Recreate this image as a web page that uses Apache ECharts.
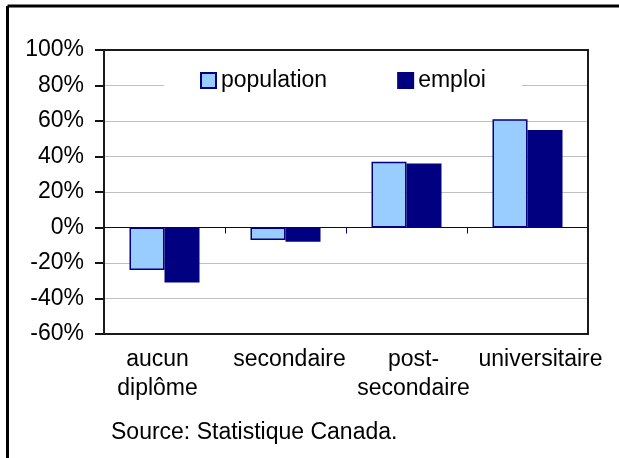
<!DOCTYPE html>
<html>
<head>
<meta charset="utf-8">
<script src="https://cdn.jsdelivr.net/npm/echarts@6/dist/echarts.min.js"></script>
<style>
html,body{margin:0;padding:0;background:#fff;}
#c{width:619px;height:458px;}
</style>
</head>
<body>
<div id="c"></div>
<script>
var categories = ['aucun\ndiplôme', 'secondaire', 'post-\nsecondaire', 'universitaire'];
var populationValues = [-24, -7, 37, 61];
var emploiValues = [-31, -8, 36, 55];
var seriesNames = ['population', 'emploi'];
var sourceText = 'Source: Statistique Canada.';

var FONT = 'Arial, "Liberation Sans", sans-serif';
var labelPads = [[0, 14, 0, 0], [0, 0, 0, 8], [0, 0, 0, 14], [0, 0, 0, 26]];
var rich = {};
labelPads.forEach(function(p, i){
  rich['c' + i] = {fontFamily: FONT, fontSize: 23, color: '#000', lineHeight: 29, padding: p};
});

var chart = echarts.init(document.getElementById('c'), null, {renderer: 'canvas'});
var borderLine = {show: true, onZero: false, lineStyle: {color: '#111111', width: 2}};
chart.setOption({
  backgroundColor: '#ffffff',
  animation: false,
  grid: {left: 104, right: 31, top: 50, bottom: 124, containLabel: false},
  legend: {
    data: seriesNames,
    left: 164, top: 61,
    padding: [8, 36, 8, 36],
    backgroundColor: '#ffffff',
    itemWidth: 15, itemHeight: 15, itemGap: 70,
    icon: 'rect',
    itemStyle: {borderColor: '#000080', borderWidth: 2},
    textStyle: {fontFamily: FONT, fontSize: 23, color: '#000'}
  },
  xAxis: [{
    type: 'category', data: categories, position: 'bottom',
    axisLine: borderLine,
    axisTick: {show: false},
    splitLine: {show: false},
    axisLabel: {
      margin: 11, interval: 0,
      formatter: function(v, i){
        return v.split('\n').map(function(s){return '{c' + i + '|' + s + '}';}).join('\n');
      },
      rich: rich
    }
  }, {
    type: 'category', data: categories, position: 'bottom',
    axisLine: {show: true, onZero: true, lineStyle: {color: '#000080', width: 1}},
    axisTick: {show: true, length: 6, lineStyle: {color: '#000080', width: 1}},
    axisLabel: {show: false},
    splitLine: {show: false}
  }, {
    type: 'category', data: categories, position: 'top',
    axisLine: borderLine,
    axisTick: {show: false}, axisLabel: {show: false}, splitLine: {show: false}
  }],
  yAxis: [{
    type: 'value', min: -60, max: 100, interval: 20, position: 'left',
    axisLine: borderLine,
    axisTick: {show: true, length: 9, lineStyle: {color: '#111111', width: 2}},
    axisLabel: {fontFamily: FONT, fontSize: 23, color: '#000', margin: 20, formatter: function(v){return v + '%';}},
    splitLine: {show: true, lineStyle: {color: '#c0c0c0', width: 1}}
  }, {
    type: 'value', min: -60, max: 100, interval: 20, position: 'right',
    axisLine: borderLine,
    axisTick: {show: false}, axisLabel: {show: false}, splitLine: {show: false}
  }],
  series: [{
    name: seriesNames[0], type: 'bar', xAxisIndex: 0, yAxisIndex: 0, data: populationValues,
    barWidth: 35, barGap: '0%',
    itemStyle: {color: '#99ccff', borderColor: '#000080', borderWidth: 1.5}
  }, {
    name: seriesNames[1], type: 'bar', xAxisIndex: 0, yAxisIndex: 0, data: emploiValues,
    barWidth: 35, barGap: '0%',
    itemStyle: {color: '#000080', borderColor: '#000080', borderWidth: 1.5}
  }],
  graphic: [
    {type: 'rect', z: 100, silent: true, shape: {x: 104, y: 50, width: 484, height: 284}, style: {fill: null, stroke: '#1a1a1a', lineWidth: 2}},
    {type: 'text', left: 111, top: 421, style: {text: sourceText, font: '23px ' + FONT, fill: '#000'}},
    {type: 'line', shape: {x1: 7.5, y1: 6, x2: 619, y2: 6}, style: {stroke: '#000', lineWidth: 3}},
    {type: 'line', shape: {x1: 7.5, y1: 6, x2: 7.5, y2: 458}, style: {stroke: '#000', lineWidth: 3}}
  ]
});
</script>
</body>
</html>
